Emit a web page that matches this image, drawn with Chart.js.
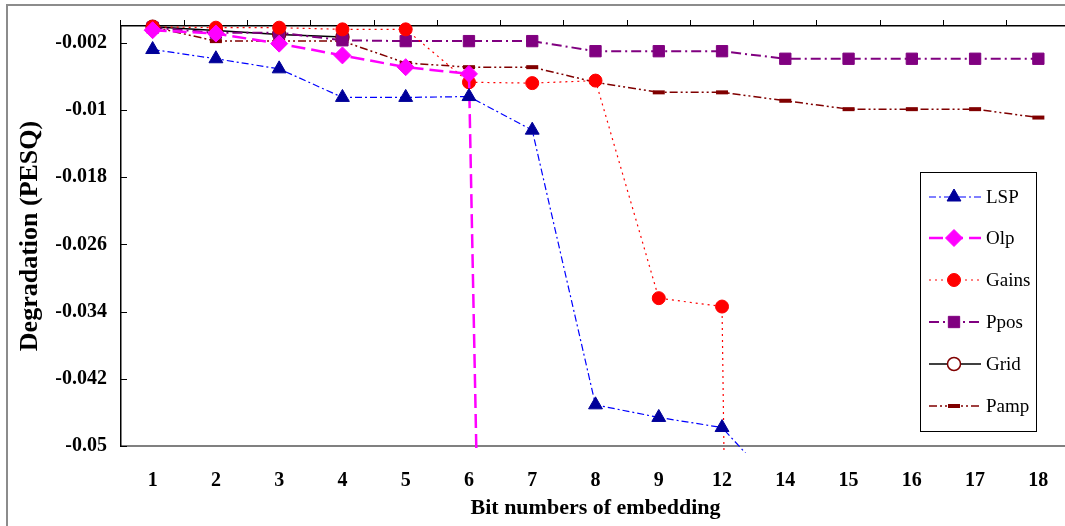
<!DOCTYPE html>
<html>
<head>
<meta charset="utf-8">
<script src="https://cdn.jsdelivr.net/npm/chart.js@4.4.1/dist/chart.umd.min.js"></script>
<style>
  html, body { margin: 0; padding: 0; background: #fff; overflow: hidden; }
  #wrap { position: relative; width: 1080px; height: 526px; }
  #frame { position: absolute; left: 6px; top: 4px; width: 1100px; height: 600px;
           border-left: 2px solid #8c8c8c; border-top: 2px solid #8c8c8c; pointer-events: none; }
</style>
</head>
<body>
<div id="wrap">
  <canvas id="chart" width="1080" height="526"></canvas>
  <div id="frame"></div>
</div>
<script>
// Data
const categories = ['1', '2', '3', '4', '5', '6', '7', '8', '9', '12', '14', '15', '16', '17', '18'];
const yTicks = [-0.05, -0.042, -0.034, -0.026, -0.018, -0.01, -0.002];

const lsp   = [-0.0028, -0.0039, -0.0051, -0.0085, -0.0085, -0.0084, -0.0124, -0.0451, -0.0466, -0.0478, -0.056, null, null, null, null];
const olp   = [-0.0005, -0.0009, -0.0021, -0.0035, -0.0049, -0.0057, -0.39, null, null, null, null, null, null, null, null];
const gains = [-0.0001, -0.0002, -0.0002, -0.0004, -0.0004, -0.0067, -0.0068, -0.0065, -0.0324, -0.0334, -0.6, null, null, null, null];
const ppos  = [-0.0002, -0.0008, -0.0008, -0.0017, -0.0018, -0.0018, -0.0018, -0.003, -0.003, -0.003, -0.0039, -0.0039, -0.0039, -0.0039, -0.0039];
const grid  = [-0.0001, -0.00055, -0.001, -0.0013, null, null, null, null, null, null, null, null, null, null, null];
const pamp  = [-0.0001, -0.0018, -0.0018, -0.0018, -0.0044, -0.0049, -0.0049, -0.0067, -0.0079, -0.0079, -0.0089, -0.0099, -0.0099, -0.0099, -0.0109];

const serif = "'Liberation Serif', 'Times New Roman', serif";
const clipBox = { left: 10, top: 10, right: 10, bottom: 7 };

function series(label, data, color, pointColor, dash, width, style, radius, extra) {
  return Object.assign({
    label: label,
    data: data,
    borderColor: color,
    backgroundColor: pointColor,
    borderWidth: width,
    borderDash: dash,
    pointStyle: style,
    pointRadius: radius,
    pointBackgroundColor: pointColor,
    pointBorderColor: pointColor,
    pointBorderWidth: 1,
    tension: 0,
    spanGaps: false,
    clip: clipBox
  }, extra || {});
}

const datasets = [
  series('LSP', lsp, '#0000ff', '#000099', [7, 3, 2, 3], 1.2, 'triangle', 8),
  series('Olp', olp, '#ff00ff', '#ff00ff', [14, 6], 2.5, 'rectRot', 8.5),
  series('Gains', gains, '#ff0000', '#ff0000', [2, 4], 1.2, 'circle', 6.5),
  series('Ppos', ppos, '#800080', '#800080', [10, 4, 2, 4], 2, 'rect', 8),
  series('Grid', grid, '#000000', '#ffffff', [], 1.5, 'circle', 6.5, { pointBorderColor: '#800000', pointBorderWidth: 1.5 }),
  series('Pamp', pamp, '#800000', '#800000', [8, 3, 2, 3, 2, 3], 1.5, 'line', 6, { pointBorderWidth: 4 })
];

// small ticks pointing into the plot on the y axis
const inwardTicks = {
  id: 'inwardTicks',
  afterDraw(chart) {
    const ctx = chart.ctx;
    const y = chart.scales.y;
    const left = chart.chartArea.left;
    ctx.save();
    ctx.strokeStyle = '#000';
    ctx.lineWidth = 1;
    yTicks.forEach(v => {
      const py = Math.round(y.getPixelForValue(v)) + 0.5;
      ctx.beginPath();
      ctx.moveTo(left, py);
      ctx.lineTo(left + 6, py);
      ctx.stroke();
    });
    ctx.restore();
  }
};

// boxed legend inside the plot, right side
const boxLegend = {
  id: 'boxLegend',
  afterDraw(chart) {
    const ctx = chart.ctx;
    const box = { x: 920.5, y: 172.5, w: 116, h: 259 };
    const rows = [197, 238, 280, 322, 364, 406];
    ctx.save();
    ctx.fillStyle = '#fff';
    ctx.fillRect(box.x, box.y, box.w, box.h);
    ctx.strokeStyle = '#000';
    ctx.lineWidth = 1;
    ctx.strokeRect(box.x, box.y, box.w, box.h);
    chart.data.datasets.forEach((ds, i) => {
      const ry = rows[i];
      ctx.save();
      ctx.strokeStyle = ds.borderColor;
      ctx.lineWidth = ds.borderWidth;
      ctx.setLineDash(ds.borderDash);
      ctx.beginPath();
      ctx.moveTo(929, ry);
      ctx.lineTo(981, ry);
      ctx.stroke();
      ctx.setLineDash([]);
      ctx.fillStyle = ds.pointBackgroundColor;
      ctx.strokeStyle = ds.pointBorderColor;
      ctx.lineWidth = ds.pointBorderWidth;
      Chart.helpers.drawPoint(ctx, {
        pointStyle: ds.pointStyle,
        radius: ds.pointRadius,
        rotation: 0,
        borderWidth: ds.pointBorderWidth
      }, 954, ry);
      ctx.restore();
      ctx.fillStyle = '#000';
      ctx.font = '19px ' + serif;
      ctx.textAlign = 'left';
      ctx.textBaseline = 'middle';
      ctx.fillText(ds.label, 986, ry + 1);
    });
    ctx.restore();
  }
};

const chart = new Chart(document.getElementById('chart').getContext('2d'), {
  type: 'line',
  data: { labels: categories, datasets: datasets },
  options: {
    responsive: false,
    devicePixelRatio: 1,
    animation: false,
    layout: { padding: { left: 0, right: 7, top: 0, bottom: 0 } },
    plugins: { legend: { display: false }, tooltip: { enabled: false } },
    scales: {
      x: {
        type: 'category',
        position: 'bottom',
        offset: true,
        grid: { display: false, drawTicks: false },
        border: { color: '#808080', width: 2 },
        ticks: { padding: 23, color: '#000', autoSkip: false, maxRotation: 0,
                 font: { family: serif, size: 20, weight: 'bold' } },
        title: { display: true, text: 'Bit numbers of embedding', color: '#000',
                 padding: { top: 0, bottom: 4 },
                 font: { family: serif, size: 22, weight: 'bold' } },
        afterFit: s => { s.height = 80; }
      },
      x2: {
        type: 'category',
        labels: categories,
        position: 'top',
        offset: true,
        grid: { offset: true, drawOnChartArea: false, tickLength: 6, color: '#000', lineWidth: 1 },
        border: { color: '#000', width: 1.5 },
        ticks: { display: false },
        afterFit: s => { s.height = 26; }
      },
      y: {
        min: -0.05,
        max: 0,
        afterBuildTicks: s => { s.ticks = yTicks.map(v => ({ value: v })); },
        grid: { display: false, drawTicks: false },
        border: { color: '#000', width: 1.5 },
        ticks: { padding: 14, color: '#000',
                 font: { family: serif, size: 20, weight: 'bold' },
                 callback: v => String(+Number(v).toFixed(3)) },
        title: { display: true, text: 'Degradation (PESQ)', color: '#000',
                 padding: { top: 15, bottom: 0 },
                 font: { family: serif, size: 26, weight: 'bold' } },
        afterFit: s => { s.width = 121; }
      }
    }
  },
  plugins: [inwardTicks, boxLegend]
});
</script>
</body>
</html>
